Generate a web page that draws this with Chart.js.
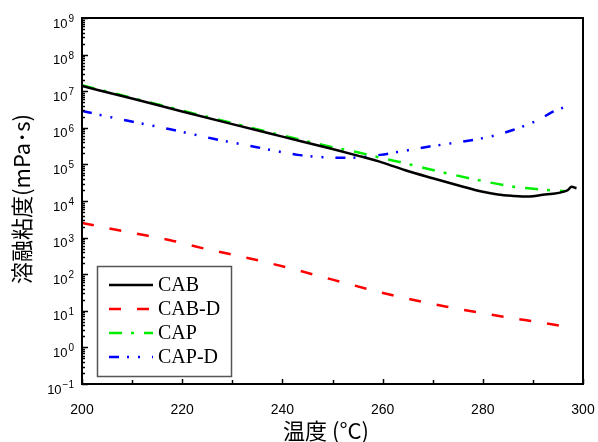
<!DOCTYPE html>
<html>
<head>
<meta charset="utf-8">
<script src="https://cdn.jsdelivr.net/npm/chart.js@4"></script>
<style>
  body { margin: 0; background: #fff; }
</style>
</head>
<body>
<canvas id="grafico" width="598" height="442"></canvas>
<script>
// dados (temperatura em °C, viscosidade em mPa·s)
const cabT = [200, 210, 220, 230, 240, 250, 255, 260, 265, 270, 275, 280, 283, 286, 289, 290, 292, 294, 296, 297, 297.7, 298.7];
const cabV = [1.38e7, 6.3e6, 2.8e6, 1.26e6, 5.75e5, 2.63e5, 1.74e5, 1.12e5, 6.6e4, 4.2e4, 2.7e4, 1.78e4, 1.5e4, 1.38e4, 1.32e4, 1.35e4, 1.48e4, 1.58e4, 1.78e4, 2.0e4, 2.45e4, 2.24e4];

const cabdT = [200, 210, 217.6, 225, 233.5, 242, 250, 261.8, 272.8, 284.1, 295.4, 296.6];
const cabdV = [2500, 1350, 850, 480, 270, 140, 71, 27, 12.9, 6.9, 3.9, 3.6];

const capT = [200, 210, 220, 230, 240, 250, 255, 260, 264.5, 271.5, 278.4, 285.8, 292.7, 296.4];
const capV = [1.45e7, 6.6e6, 2.95e6, 1.35e6, 6.2e5, 2.95e5, 2.14e5, 1.48e5, 1.07e5, 6.3e4, 3.9e4, 2.5e4, 2.0e4, 1.86e4];

const capdT = [200, 203.6, 209.2, 217.6, 226, 234.9, 243.1, 248, 251.8, 255, 259.5, 264, 268.8, 277.4, 282, 286, 291, 294, 297.1];
const capdV = [2.9e6, 2.25e6, 1.55e6, 9.1e5, 5.1e5, 2.95e5, 1.82e5, 1.58e5, 1.51e5, 1.55e5, 1.82e5, 2.3e5, 3.0e5, 4.5e5, 6.0e5, 8.7e5, 1.62e6, 2.75e6, 4.0e6];

const nomes = ['CAB', 'CAB-D', 'CAP', 'CAP-D'];
const xTicks = [200, 220, 240, 260, 280, 300];
const yExpoentes = [-1, 0, 1, 2, 3, 4, 5, 6, 7, 8, 9];

const pares = (ts, vs) => ts.map((t, i) => ({ x: t, y: vs[i] }));

// Eixos, marcas internas, rótulos 10^n e legenda
const decoracao = {
  id: 'decoracao',
  afterDraw(chart) {
    const { ctx, chartArea: a, scales: { x, y } } = chart;
    ctx.save();
    ctx.strokeStyle = '#000';
    ctx.lineWidth = 1.5;
    ctx.setLineDash([]);

    // marcas do eixo y (para dentro)
    yExpoentes.forEach(e => {
      for (let k = 1; k <= 9; k++) {
        const v = k * Math.pow(10, e);
        if (v > 1.0001e9) break;
        const py = Math.round(y.getPixelForValue(v)) + 0.5;
        const len = k === 1 ? 6 : 3;
        ctx.beginPath();
        ctx.moveTo(a.left, py);
        ctx.lineTo(a.left + len, py);
        ctx.stroke();
      }
    });

    // marcas do eixo x
    for (let t = 200; t <= 300; t += 10) {
      const px = Math.round(x.getPixelForValue(t)) + 0.5;
      const len = t % 20 === 0 ? 5 : 4;
      ctx.beginPath();
      ctx.moveTo(px, a.bottom);
      ctx.lineTo(px, a.bottom - len);
      ctx.stroke();
    }

    // moldura
    ctx.lineWidth = 2;
    ctx.strokeRect(a.left, a.top, a.right - a.left, a.bottom - a.top);

    // rótulos 10^n
    ctx.fillStyle = '#000';
    ctx.textAlign = 'right';
    ctx.textBaseline = 'alphabetic';
    yExpoentes.forEach(e => {
      const py = y.getPixelForValue(Math.pow(10, e));
      const exp = e < 0 ? '\u2212' + Math.abs(e) : String(e);
      ctx.font = '10px "Liberation Sans"';
      const w = ctx.measureText(exp).width;
      ctx.fillText(exp, 74, py + 4);
      ctx.font = '13px "Liberation Sans"';
      ctx.fillText('10', 73 - w, py + 9.5);
    });

    // títulos
    ctx.font = '22px "Noto Sans CJK JP"';
    ctx.textAlign = 'center';
    ctx.textBaseline = 'middle';
    ctx.fillText('温度 (°C)', 326, 431);
    ctx.save();
    ctx.translate(22, 199);
    ctx.rotate(-Math.PI / 2);
    ctx.fillText('溶融粘度(mPa･s)', 0, 0);
    ctx.restore();

    // legenda
    ctx.strokeStyle = '#555';
    ctx.lineWidth = 1.5;
    ctx.strokeRect(97.5, 266.5, 134, 110);
    ctx.font = '20px "Liberation Serif"';
    ctx.textAlign = 'left';
    chart.data.datasets.forEach((ds, i) => {
      const ly = 285 + i * 24;
      ctx.strokeStyle = ds.borderColor;
      ctx.lineWidth = ds.borderWidth;
      ctx.setLineDash(ds.borderDash || []);
      ctx.beginPath();
      ctx.moveTo(109, ly);
      ctx.lineTo(153, ly);
      ctx.stroke();
      ctx.setLineDash([]);
      ctx.fillStyle = '#000';
      ctx.fillText(ds.label, 158, ly + 1);
    });
    ctx.restore();
  }
};

new Chart(document.getElementById('grafico'), {
  type: 'line',
  data: {
    datasets: [
      { label: nomes[0], data: pares(cabT, cabV), borderColor: '#000000', borderWidth: 2.5, borderDash: [] },
      { label: nomes[1], data: pares(cabdT, cabdV), borderColor: '#ff0000', borderWidth: 2.5, borderDash: [12, 16] },
      { label: nomes[2], data: pares(capT, capV), borderColor: '#00ee00', borderWidth: 2.5, borderDash: [13, 9, 3, 10] },
      { label: nomes[3], data: pares(capdT, capdV), borderColor: '#0000ff', borderWidth: 2.5, borderDash: [10, 8, 2, 9, 2, 12] }
    ]
  },
  options: {
    responsive: false,
    animation: false,
    elements: { point: { radius: 0 }, line: { tension: 0.3, cubicInterpolationMode: 'monotone' } },
    layout: { padding: { top: 18, right: 15, left: 0, bottom: 0 } },
    plugins: { legend: { display: false }, tooltip: { enabled: false } },
    scales: {
      x: {
        type: 'linear',
        min: 200,
        max: 300,
        afterBuildTicks: s => { s.ticks = xTicks.map(v => ({ value: v })); },
        ticks: { font: { family: 'Liberation Sans', size: 14 }, color: '#000', padding: 10, maxRotation: 0 },
        grid: { display: false },
        border: { display: false },
        afterFit: s => { s.height = 58; s.paddingLeft = 0; s.paddingRight = 0; }
      },
      y: {
        type: 'logarithmic',
        min: 0.1,
        max: 1e9,
        ticks: { display: false },
        grid: { display: false },
        border: { display: false },
        afterFit: s => { s.width = 82; s.paddingTop = 0; s.paddingBottom = 0; }
      }
    }
  },
  plugins: [decoracao]
});
</script>
</body>
</html>
